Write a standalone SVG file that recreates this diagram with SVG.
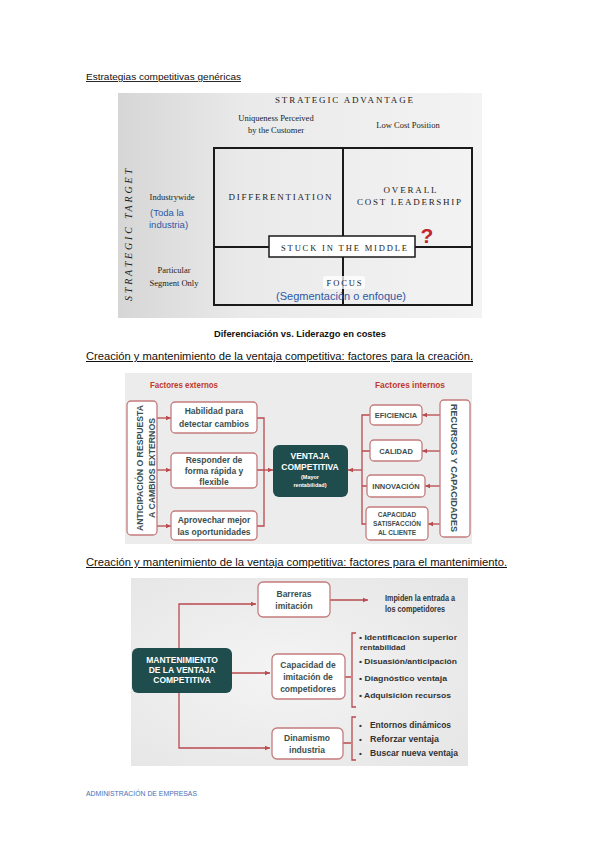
<svg xmlns="http://www.w3.org/2000/svg" width="599" height="848" viewBox="0 0 599 848">
<style>
.hd{font-family:"Liberation Sans",Arial,sans-serif;fill:#111;text-decoration:underline}
.sf{font-family:"Liberation Serif","Times New Roman",serif;fill:#222}
.bl{font-family:"Liberation Sans",Arial,sans-serif;fill:#2d58a6}
.grid{fill:none;stroke:#1a1a1a;stroke-width:2}
.rb{fill:#fff;stroke:#c47c7e;stroke-width:1.3}
.tb{fill:#1f4d4e}
.bt{font-family:"Liberation Sans",Arial,sans-serif;font-weight:bold;fill:#3b4f50;text-anchor:middle}
.wt{font-family:"Liberation Sans",Arial,sans-serif;font-weight:bold;fill:#fff;text-anchor:middle}
.rt{font-family:"Liberation Sans",Arial,sans-serif;font-weight:bold;fill:#c0392b}
.ln{fill:none;stroke:#b94a4e;stroke-width:1.3}
.dk{font-family:"Liberation Sans",Arial,sans-serif;font-weight:bold;fill:#333}
</style>
<defs>
<linearGradient id="g1" x1="0" y1="0" x2="1" y2="0">
<stop offset="0" stop-color="#d6d6d6"/><stop offset="0.35" stop-color="#eaeaea"/><stop offset="1" stop-color="#f3f3f3"/>
</linearGradient>
<radialGradient id="g3" cx="0.45" cy="0.5" r="0.7">
<stop offset="0" stop-color="#f4f4f4"/><stop offset="1" stop-color="#e6e6e6"/>
</radialGradient>
<marker id="ar" markerWidth="6" markerHeight="6" refX="5" refY="3" orient="auto" markerUnits="userSpaceOnUse">
<path d="M0,0.8 L5,3 L0,5.2 Z" fill="#b94a4e"/>
</marker>
</defs>
<rect width="599" height="848" fill="#fff"/>

<text class="hd" x="86" y="80" font-size="9" textLength="155" lengthAdjust="spacingAndGlyphs">Estrategias competitivas genéricas</text>

<g id="fig1">
<rect x="118" y="93" width="364" height="225" fill="url(#g1)"/>
<text class="sf" x="344" y="103" font-size="9" text-anchor="middle" textLength="138" lengthAdjust="spacing">STRATEGIC ADVANTAGE</text>
<text class="sf" x="276" y="121" font-size="8.5" text-anchor="middle">Uniqueness Perceived</text>
<text class="sf" x="276" y="133" font-size="8.5" text-anchor="middle">by the Customer</text>
<text class="sf" x="408" y="128" font-size="8.5" text-anchor="middle">Low Cost Position</text>
<text class="sf" transform="translate(132,235) rotate(-90)" font-size="10" font-style="italic" text-anchor="middle" textLength="132" lengthAdjust="spacing">STRATEGIC TARGET</text>
<rect class="grid" x="214" y="148" width="258" height="157"/>
<line class="grid" x1="343" y1="148" x2="343" y2="305"/>
<line class="grid" x1="214" y1="247" x2="472" y2="247"/>
<text class="sf" x="280" y="200" font-size="9" text-anchor="middle" textLength="103" lengthAdjust="spacing">DIFFERENTIATION</text>
<text class="sf" x="410" y="193" font-size="9" text-anchor="middle" textLength="53" lengthAdjust="spacing">OVERALL</text>
<text class="sf" x="409" y="205" font-size="9" text-anchor="middle" textLength="104" lengthAdjust="spacing">COST LEADERSHIP</text>
<text class="sf" x="172" y="200" font-size="8.5" text-anchor="middle">Industrywide</text>
<text class="bl" x="150" y="216" font-size="9.5">(Toda la</text>
<text class="bl" x="149" y="228" font-size="9.5">industria)</text>
<text class="sf" x="174" y="273" font-size="8.5" text-anchor="middle">Particular</text>
<text class="sf" x="174" y="286" font-size="8.5" text-anchor="middle">Segment Only</text>
<g id="stuck">
<rect x="269" y="236" width="146" height="21" fill="#fff" stroke="#1a1a1a" stroke-width="1.5"/>
<text class="sf" x="344" y="251" font-size="8.5" text-anchor="middle" textLength="126" lengthAdjust="spacing">STUCK IN THE MIDDLE</text>
</g>
<text x="427" y="243" font-family="Liberation Sans,Arial,sans-serif" font-weight="bold" font-size="21" fill="#c0262d" text-anchor="middle">?</text>
<rect x="323" y="276" width="42" height="13" rx="3" fill="#fff" opacity="0.75"/>
<text class="sf" x="344" y="286" font-size="8.5" text-anchor="middle" textLength="35" lengthAdjust="spacing">FOCUS</text>
<text class="bl" x="341" y="300" font-size="11" text-anchor="middle" textLength="130" lengthAdjust="spacingAndGlyphs">(Segmentación o enfoque)</text>
</g>
<text x="300" y="337" font-family="Liberation Sans,Arial,sans-serif" font-weight="bold" font-size="8.5" fill="#111" text-anchor="middle" textLength="172" lengthAdjust="spacingAndGlyphs">Diferenciación vs. Liderazgo en costes</text>

<text class="hd" x="86" y="360" font-size="10" textLength="387" lengthAdjust="spacingAndGlyphs">Creación y mantenimiento de la ventaja competitiva: factores para la creación.</text>

<g id="fig2">
<rect x="125" y="373" width="347" height="171" fill="#ececec"/>
<text class="rt" x="150" y="388" font-size="8.5" textLength="68" lengthAdjust="spacingAndGlyphs">Factores externos</text>
<text class="rt" x="410" y="388" font-size="8.5" text-anchor="middle" textLength="70" lengthAdjust="spacingAndGlyphs">Factores internos</text>
<g id="connectors2">
<line class="ln" x1="157" y1="418" x2="171" y2="418" marker-end="url(#ar)"/>
<line class="ln" x1="157" y1="470" x2="171" y2="470" marker-end="url(#ar)"/>
<line class="ln" x1="157" y1="526" x2="171" y2="526" marker-end="url(#ar)"/>
<path class="ln" d="M257,418 H264 V526 H257 M257,470 H264"/>
<line class="ln" x1="264" y1="470" x2="273" y2="470" marker-end="url(#ar)"/>
<line class="ln" x1="440" y1="415" x2="422" y2="415" marker-end="url(#ar)"/>
<line class="ln" x1="440" y1="451" x2="422" y2="451" marker-end="url(#ar)"/>
<line class="ln" x1="440" y1="486" x2="425" y2="486" marker-end="url(#ar)"/>
<line class="ln" x1="440" y1="524" x2="428" y2="524" marker-end="url(#ar)"/>
<path class="ln" d="M370,415 H362 V524 H366 M370,451 H362 M367,486 H362"/>
<line class="ln" x1="362" y1="470" x2="348" y2="470" marker-end="url(#ar)"/>
</g>
<g id="anticipacion">
<rect class="rb" x="127" y="401" width="30" height="134" rx="4"/>
<text class="bt" transform="translate(143,468) rotate(-90)" font-size="8.5" textLength="126" lengthAdjust="spacingAndGlyphs">ANTICIPACIÓN O RESPUESTA</text>
<text class="bt" transform="translate(155,468) rotate(-90)" font-size="8.5" textLength="100" lengthAdjust="spacingAndGlyphs">A CAMBIOS EXTERNOS</text>
</g>
<g id="habilidad">
<rect class="rb" x="171" y="402" width="86" height="31" rx="4"/>
<text class="bt" x="214" y="414" font-size="8.5">Habilidad para</text>
<text class="bt" x="214" y="427" font-size="8.5">detectar cambios</text>
</g>
<g id="responder">
<rect class="rb" x="171" y="453" width="86" height="35" rx="4"/>
<text class="bt" x="214" y="463" font-size="8.5">Responder de</text>
<text class="bt" x="214" y="474" font-size="8.5">forma rápida y</text>
<text class="bt" x="214" y="485" font-size="8.5">flexible</text>
</g>
<g id="aprovechar">
<rect class="rb" x="171" y="511" width="86" height="29" rx="4"/>
<text class="bt" x="214" y="523" font-size="8.5">Aprovechar mejor</text>
<text class="bt" x="214" y="535" font-size="8.5">las oportunidades</text>
</g>
<g id="ventaja">
<rect class="tb" x="273" y="445" width="75" height="52" rx="6"/>
<text class="wt" x="310" y="459" font-size="8.5">VENTAJA</text>
<text class="wt" x="310" y="470" font-size="8.5">COMPETITIVA</text>
<text class="wt" x="310" y="479" font-size="5.5">(Mayor</text>
<text class="wt" x="310" y="487" font-size="5.5">rentabilidad)</text>
</g>
<g id="eficiencia">
<rect class="rb" x="370" y="405" width="52" height="20" rx="4"/>
<text class="bt" x="396" y="418" font-size="7.5">EFICIENCIA</text>
</g>
<g id="calidad">
<rect class="rb" x="370" y="440" width="52" height="21" rx="4"/>
<text class="bt" x="396" y="454" font-size="7.5">CALIDAD</text>
</g>
<g id="innovacion">
<rect class="rb" x="367" y="475" width="58" height="22" rx="4"/>
<text class="bt" x="396" y="489" font-size="7.5">INNOVACIÓN</text>
</g>
<g id="capacidad-satisf">
<rect class="rb" x="366" y="507" width="62" height="33" rx="4"/>
<text class="bt" x="397" y="517" font-size="6.5">CAPACIDAD</text>
<text class="bt" x="397" y="526" font-size="6.5">SATISFACCIÓN</text>
<text class="bt" x="397" y="535" font-size="6.5">AL CLIENTE</text>
</g>
<g id="recursos">
<rect class="rb" x="440" y="400" width="30" height="137" rx="4"/>
<text class="bt" transform="translate(451,468) rotate(90)" font-size="8.5" textLength="128" lengthAdjust="spacingAndGlyphs">RECURSOS Y CAPACIDADES</text>
</g>
</g>

<text class="hd" x="86" y="566" font-size="10" textLength="421" lengthAdjust="spacingAndGlyphs">Creación y mantenimiento de la ventaja competitiva: factores para el mantenimiento.</text>

<g id="fig3">
<rect x="131" y="578" width="337" height="188" fill="url(#g3)"/>
<g id="connectors3">
<path class="ln" d="M179,648 V604 H256" marker-end="url(#ar)"/>
<line class="ln" x1="232" y1="673" x2="270" y2="673" marker-end="url(#ar)"/>
<path class="ln" d="M179,693 V748 H270" marker-end="url(#ar)"/>
<line class="ln" x1="330" y1="600" x2="368" y2="600" marker-end="url(#ar)"/>
<path class="ln" d="M345,677 H351 M356,633 H352 V707 H356"/>
<path class="ln" d="M343,743 H351 M356,717 H352 V760 H356"/>
</g>
<g id="mantenimiento">
<rect class="tb" x="132" y="648" width="100" height="45" rx="6"/>
<text class="wt" x="182" y="663" font-size="8.5">MANTENIMIENTO</text>
<text class="wt" x="182" y="673" font-size="8.5">DE LA VENTAJA</text>
<text class="wt" x="182" y="683" font-size="8.5">COMPETITIVA</text>
</g>
<g id="barreras">
<rect class="rb" x="258" y="582" width="72" height="35" rx="5"/>
<text class="bt" x="294" y="597" font-size="8.5">Barreras</text>
<text class="bt" x="294" y="609" font-size="8.5">imitación</text>
</g>
<g id="capacidad-imit">
<rect class="rb" x="272" y="654" width="73" height="45" rx="5"/>
<text class="bt" x="308" y="668" font-size="8.5">Capacidad de</text>
<text class="bt" x="308" y="680" font-size="8.5">imitación de</text>
<text class="bt" x="308" y="692" font-size="8.5">competidores</text>
</g>
<g id="dinamismo">
<rect class="rb" x="272" y="728" width="71" height="31" rx="5"/>
<text class="bt" x="307" y="741" font-size="8.5">Dinamismo</text>
<text class="bt" x="307" y="753" font-size="8.5">industria</text>
</g>
<text class="dk" x="385" y="601" font-size="8.2" textLength="70" lengthAdjust="spacingAndGlyphs">Impiden la entrada a</text>
<text class="dk" x="385" y="612" font-size="8.2" textLength="60" lengthAdjust="spacingAndGlyphs">los competidores</text>
<text class="dk" x="359" y="640" font-size="8" textLength="98" lengthAdjust="spacingAndGlyphs">•  Identificación superior</text>
<text class="dk" x="360" y="650" font-size="8">rentabilidad</text>
<text class="dk" x="359" y="664" font-size="8" textLength="98" lengthAdjust="spacingAndGlyphs">•  Disuasión/anticipación</text>
<text class="dk" x="359" y="681" font-size="8" textLength="88" lengthAdjust="spacingAndGlyphs">•  Diagnóstico ventaja</text>
<text class="dk" x="359" y="698" font-size="8" textLength="92" lengthAdjust="spacingAndGlyphs">•  Adquisición recursos</text>
<text class="dk" x="359" y="728" font-size="8">•</text>
<text class="dk" x="370" y="728" font-size="8.2" textLength="81" lengthAdjust="spacingAndGlyphs">Entornos dinámicos</text>
<text class="dk" x="359" y="742" font-size="8">•</text>
<text class="dk" x="370" y="742" font-size="8.2" textLength="69" lengthAdjust="spacingAndGlyphs">Reforzar ventaja</text>
<text class="dk" x="359" y="756" font-size="8">•</text>
<text class="dk" x="370" y="756" font-size="8.2" textLength="88" lengthAdjust="spacingAndGlyphs">Buscar nueva ventaja</text>
</g>

<text x="86" y="796" font-family="Liberation Sans,Arial,sans-serif" font-size="6.5" fill="#4a6fb5" textLength="111" lengthAdjust="spacingAndGlyphs">ADMINISTRACIÓN DE EMPRESAS</text>
</svg>
